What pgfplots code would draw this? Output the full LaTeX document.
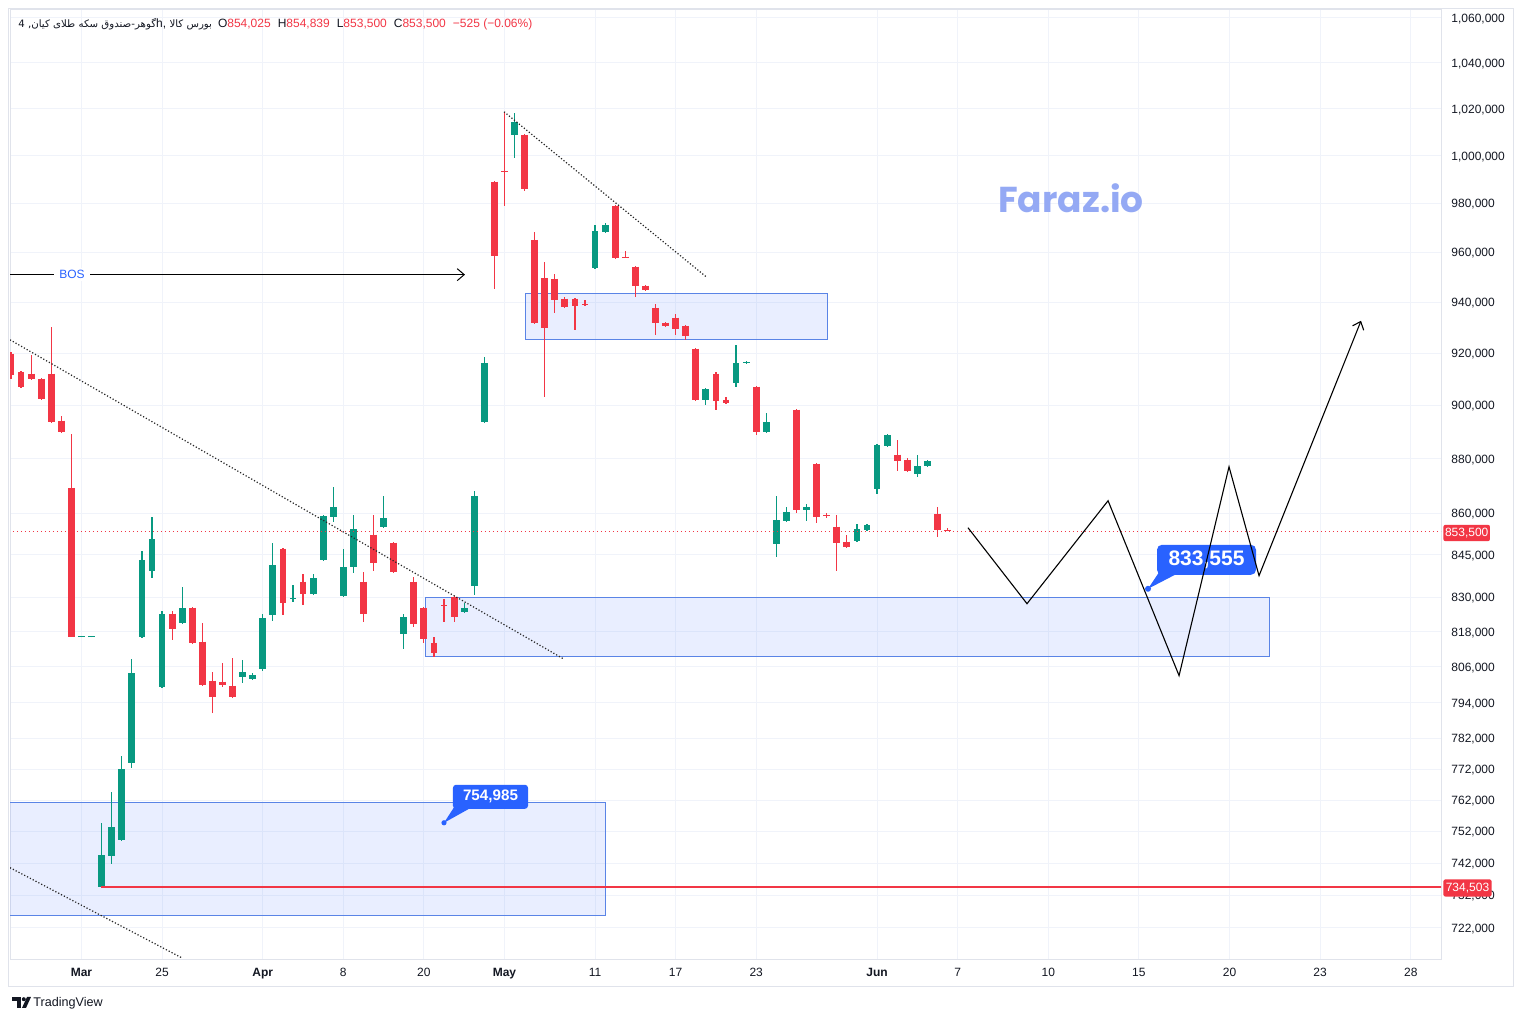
\documentclass[border=0pt]{standalone}
\usepackage{fontspec}
\setmainfont{Liberation Sans}
\newfontfamily\fa[Script=Arabic]{DejaVu Sans}
\newfontfamily\wmfont{Poppins}
\usepackage{pgfplots}
\pgfplotsset{compat=1.18}
\usetikzlibrary{arrows.meta}
\TeXXeTstate=1
\definecolor{tvred}{HTML}{F23645}
\definecolor{tvgreen}{HTML}{089981}
\definecolor{tvblue}{HTML}{2962FF}
\definecolor{tvgrid}{HTML}{F0F3FA}
\definecolor{tvborder}{HTML}{E0E3EB}
\definecolor{tvtext}{HTML}{131722}
\definecolor{boxedge}{HTML}{5A84E6}
\definecolor{wm}{HTML}{94A9F4}
\begin{document}
\begin{tikzpicture}
\path[use as bounding box, fill=white] (-5pt,-30.5pt) rectangle (756.5pt,480pt);
% prices in thousands
\begin{axis}[
  at={(0pt,0pt)}, anchor=south west,
  scale only axis, width=715.5pt, height=475pt,
  xmin=-0.1, xmax=142, ymode=log, ymin=712.33, ymax=1063.584,
  axis line style={draw=tvborder, line width=0.5pt},
  major tick length=0pt, minor tick num=0,
  xtick={7,15,25,33,41,49,58,66,74,86,94,103,112,121,130,139},
  xticklabels={\textbf{Mar},25,\textbf{Apr},8,20,\textbf{May},11,17,23,\textbf{Jun},7,10,15,20,23,28},
  ytick={722,732,742,752,762,772,782,794,806,818,830,845,860,880,900,920,940,960,980,1000,1020,1040,1060},
  yticklabels={{722,000},{732,000},{742,000},{752,000},{762,000},{772,000},{782,000},{794,000},{806,000},{818,000},{830,000},{845,000},{860,000},{880,000},{900,000},{920,000},{940,000},{960,000},{980,000},{1,000,000},{1,020,000},{1,040,000},{1,060,000}},
  yticklabel pos=right,
  yticklabel style={anchor=west, xshift=5pt, yshift=-0.4pt, inner sep=0pt, font=\fontsize{6}{7}\selectfont, text=tvtext},
  xticklabel style={anchor=base, yshift=-8.5pt, inner sep=0pt, font=\fontsize{6}{7}\selectfont, text=tvtext},
  grid=major, major grid style={draw=tvgrid, line width=0.5pt},
  unbounded coords=jump,
]
% zones
\addplot[draw=boxedge, line width=0.5pt, fill=tvblue, fill opacity=0.1] coordinates {(-3,761.13) (59.0,761.13) (59.0,725.68) (-3,725.68)} -- cycle;
\addplot[draw=boxedge, line width=0.5pt, fill=tvblue, fill opacity=0.1] coordinates {(51.04,943.47) (81.03,943.47) (81.03,925.34) (51.04,925.34)} -- cycle;
\addplot[draw=boxedge, line width=0.5pt, fill=tvblue, fill opacity=0.1] coordinates {(41.11,829.9) (124.93,829.9) (124.93,809.49) (41.11,809.49)} -- cycle;
% red wicks (low, high)
\addplot[tvred, line width=0.6pt] coordinates {
(0,910.24) (0,920.68) (0,nan) (1,906.79) (1,913.32) (1,nan) (2,909.86) (2,919.52) (2,nan)
(3,902.21) (3,910.62) (3,nan) (4,893.5) (4,930.45) (4,nan) (5,889.74) (5,896.14) (5,nan)
(6,816.35) (6,889.36) (6,nan) (16,815.32) (16,825.36) (16,nan) (18,813.95) (18,826.76) (18,nan)
(19,799.65) (19,821.19) (19,nan) (20,790.59) (20,804.39) (20,nan) (21,799.31) (21,807.45) (21,nan)
(22,795.62) (22,809.15) (22,nan) (27,823.96) (27,847.59) (27,nan) (29,827.45) (29,838.34) (29,nan)
(35,821.54) (35,839.05) (35,nan) (36,839.41) (36,859.48) (36,nan) (38,838.7) (38,849.75) (38,nan)
(40,819.8) (40,837.29) (40,nan) (41,814.29) (41,826.76) (41,nan) (42,809.49) (42,816.35) (42,nan)
(43,821.54) (43,829.55) (43,nan) (44,821.54) (44,830.6) (44,nan) (48,945.47) (48,989.55) (48,nan)
(49,979.17) (49,1018.78) (49,nan) (51,985.38) (51,1009.36) (51,nan) (52,931.61) (52,968.48) (52,nan)
(53,903.35) (53,956.3) (53,nan) (54,935.95) (54,951.48) (54,nan) (55,937.92) (55,942.28) (55,nan)
(56,929.25) (56,941.88) (56,nan) (57,938.71) (57,941.09) (57,nan) (60,957.51) (60,979.58) (60,nan)
(61,957.92) (61,960.75) (61,nan) (62,942.28) (62,954.7) (62,nan) (63,944.67) (63,947.06) (63,nan)
(64,927.3) (64,939.51) (64,nan) (65,930.43) (65,932.39) (65,nan) (66,927.3) (66,935.55) (66,nan)
(67,925.34) (67,931.22) (67,nan) (68,901.83) (68,922.23) (68,nan) (70,898.41) (70,912.93) (70,nan)
(71,900.69) (71,903.35) (71,nan) (74,888.99) (74,907.56) (74,nan) (78,860.21) (78,898.79) (78,nan)
(80,856.6) (80,878.55) (80,nan) (81,858.4) (81,860.21) (81,nan) (82,839.41) (82,859.48) (82,nan)
(83,847.59) (83,852.26) (83,nan) (88,875.58) (88,887.11) (88,nan) (89,875.21) (89,880.4) (89,nan)
(92,851.54) (92,862.38) (92,nan) (93,853.5) (93,854.839) (93,nan)
};
% red bodies (open, close)
\addplot[tvred, line width=3.4pt] coordinates {
(0,919.91) (0,911.78) (0,nan) (1,912.93) (1,907.17) (1,nan) (2,912.16) (2,910.24) (2,nan)
(3,910.24) (3,902.59) (3,nan) (4,912.16) (4,893.88) (4,nan) (5,894.25) (5,890.11) (5,nan)
(6,869.32) (6,816.35) (6,nan) (16,824.31) (16,819.11) (16,nan) (18,826.41) (18,814.29) (18,nan)
(19,814.63) (19,799.99) (19,nan) (20,801.34) (20,795.95) (20,nan) (21,801.0) (21,799.99) (21,nan)
(22,799.65) (22,795.95) (22,nan) (27,847.24) (27,828.16) (27,nan) (29,835.52) (29,831.3) (29,nan)
(35,835.52) (35,824.31) (35,nan) (36,852.26) (36,842.24) (36,nan) (38,849.39) (38,839.05) (38,nan)
(40,835.52) (40,820.85) (40,nan) (41,826.41) (41,815.66) (41,nan) (42,814.29) (42,810.86) (42,nan)
(43,827.2) (43,826.9) (43,nan) (44,830.25) (44,823.27) (44,nan) (48,989.13) (48,958.73) (48,nan)
(49,993.5) (49,993.1) (49,nan) (51,1008.93) (51,986.22) (51,nan) (52,965.22) (52,932.0) (52,nan)
(53,949.87) (53,930.04) (53,nan) (54,949.47) (54,941.09) (54,nan) (55,941.49) (55,938.32) (55,nan)
(56,941.49) (56,938.71) (56,nan) (57,939.2) (57,938.9) (57,nan) (60,979.17) (60,957.92) (60,nan)
(61,958.4) (61,958.1) (61,nan) (62,954.29) (62,946.67) (62,nan) (63,946.67) (63,945.07) (63,nan)
(64,937.92) (64,932.0) (64,nan) (65,932.0) (65,930.82) (65,nan) (66,933.97) (66,929.64) (66,nan)
(67,930.82) (67,926.9) (67,nan) (68,921.84) (68,902.21) (68,nan) (70,912.16) (70,901.83) (70,nan)
(71,902.21) (71,901.07) (71,nan) (74,907.17) (74,890.11) (74,nan) (78,898.41) (78,861.29) (78,nan)
(80,878.18) (80,858.76) (80,nan) (81,859.2) (81,858.9) (81,nan) (82,855.12) (82,849.39) (82,nan)
(83,849.75) (83,847.95) (83,nan) (88,881.52) (88,879.29) (88,nan) (89,879.66) (89,875.58) (89,nan)
(92,859.84) (92,854.025) (92,nan) (93,854.025) (93,853.5) (93,nan)
};
% green wicks (low, high)
\addplot[tvgreen, line width=0.6pt] coordinates {
(7,816.2) (7,816.5) (7,nan) (8,816.2) (8,816.5) (8,nan) (9,734.32) (9,754.74) (9,nan)
(10,741.8) (10,764.68) (10,nan) (11,749.03) (11,776.38) (11,nan) (12,772.45) (12,808.81) (12,nan)
(13,816.0) (13,846.52) (13,nan) (14,836.94) (14,858.76) (14,nan) (15,798.97) (15,825.36) (15,nan)
(17,820.85) (17,833.76) (17,nan) (23,800.66) (23,808.47) (23,nan) (24,801.68) (24,804.05) (24,nan)
(25,804.73) (25,824.31) (25,nan) (26,821.88) (26,849.39) (26,nan) (28,828.5) (28,834.47) (28,nan)
(30,830.95) (30,838.34) (30,nan) (31,842.95) (31,859.48) (31,nan) (32,856.95) (32,869.69) (32,nan)
(33,830.25) (33,847.24) (33,nan) (34,838.7) (34,859.48) (34,nan) (37,854.77) (37,866.39) (37,nan)
(39,812.23) (39,824.31) (39,nan) (45,824.66) (45,828.16) (45,nan) (46,830.95) (46,868.22) (46,nan)
(47,893.5) (47,918.73) (47,nan) (50,999.2) (50,1018.35) (50,nan) (58,953.48) (58,971.34) (58,nan)
(59,968.08) (59,972.16) (59,nan) (69,900.31) (69,906.79) (69,nan) (72,907.17) (72,923.4) (72,nan)
(73,916.02) (73,917.18) (73,nan) (75,889.74) (75,897.28) (75,nan) (76,844.38) (76,866.39) (76,nan)
(77,856.95) (77,862.38) (77,nan) (79,857.31) (79,863.47) (79,nan) (84,849.75) (84,856.24) (84,nan)
(85,853.7) (85,856.24) (85,nan) (86,867.13) (86,885.62) (86,nan) (87,884.5) (87,889.36) (87,nan)
(90,873.37) (90,881.52) (90,nan) (91,877.06) (91,879.66) (91,nan)
};
% green bodies (open, close)
\addplot[tvgreen, line width=3.4pt] coordinates {
(7,816.2) (7,816.5) (7,nan) (8,816.2) (8,816.5) (8,nan) (9,734.63) (9,744.62) (9,nan)
(10,744.31) (10,753.46) (10,nan) (11,749.34) (11,772.12) (11,nan) (12,774.09) (12,804.05) (12,nan)
(13,816.35) (13,843.31) (13,nan) (14,839.41) (14,850.82) (14,nan) (15,799.31) (15,824.31) (15,nan)
(17,821.19) (17,826.41) (17,nan) (23,802.7) (23,804.39) (23,nan) (24,802.02) (24,803.37) (24,nan)
(25,805.41) (25,822.93) (25,nan) (26,823.96) (26,841.53) (26,nan) (28,829.55) (28,829.9) (28,nan)
(30,831.3) (30,836.93) (30,nan) (31,843.31) (31,859.12) (31,nan) (32,858.76) (32,862.38) (32,nan)
(33,830.6) (33,840.82) (33,nan) (34,840.82) (34,854.41) (34,nan) (37,855.12) (37,858.4) (37,nan)
(39,817.39) (39,823.27) (39,nan) (45,825.02) (45,826.41) (45,nan) (46,834.11) (46,866.39) (46,nan)
(47,893.88) (47,916.41) (47,nan) (50,1008.93) (50,1014.49) (50,nan) (58,953.88) (58,968.89) (58,nan)
(59,968.48) (59,971.34) (59,nan) (69,902.21) (69,906.4) (69,nan) (72,908.71) (72,916.41) (72,nan)
(73,916.41) (73,916.8) (73,nan) (75,890.11) (75,893.88) (75,nan) (76,849.03) (76,857.67) (76,nan)
(77,857.31) (77,860.57) (77,nan) (79,861.29) (79,862.38) (79,nan) (84,850.1) (84,854.41) (84,nan)
(85,854.05) (85,855.84) (85,nan) (86,868.96) (86,885.24) (86,nan) (87,884.87) (87,888.98) (87,nan)
(90,874.48) (90,877.43) (90,nan) (91,877.43) (91,879.29) (91,nan)
};
% price lines
\addplot[tvred, line width=0.5pt, dash pattern=on 0.5pt off 1.5pt] coordinates {(-1,853.5) (143,853.5)};
\addplot[tvred, line width=1pt] coordinates {(8.9,734.503) (143,734.503)};
% trend lines
\addplot[black!85, line width=0.6pt, densely dotted] coordinates {(-0.1,925.34) (54.82,808.81)};
\addplot[black!85, line width=0.6pt, densely dotted] coordinates {(-0.1,740.54) (16.98,712.86)};
\addplot[black!85, line width=0.6pt, densely dotted] coordinates {(48.96,1018.78) (69.02,950.27)};
% BOS
\addplot[black, line width=0.5pt, -{Straight Barb[length=3.5pt,width=6pt]}] coordinates {(-0.1,951.08) (45.08,951.08)};
\node[fill=white, text=tvblue, inner xsep=2.5pt, inner ysep=1pt, font=\fontsize{6}{7}\selectfont] at (axis cs:6.06,951.08) {BOS};
% callouts
\fill[tvblue, rounded corners=1.5pt] (rel axis cs:0.30957,0.15895) rectangle (rel axis cs:0.36198,0.18421);
\fill[tvblue] (rel axis cs:0.31097,0.16211) -- (rel axis cs:0.32145,0.15950) -- (rel axis cs:0.30329,0.14421) -- cycle;
\fill[tvblue] (rel axis cs:0.30329,0.14421) circle (1.3pt);
\node[text=white, font=\bfseries\fontsize{7.6}{9}\selectfont] at (rel axis cs:0.33578,0.17158) {754,985};
\fill[tvblue, rounded corners=2.5pt] (rel axis cs:0.80154,0.40526) rectangle (rel axis cs:0.87072,0.43684);
\fill[tvblue] (rel axis cs:0.80363,0.40947) -- (rel axis cs:0.81482,0.40580) -- (rel axis cs:0.79525,0.39053) -- cycle;
\fill[tvblue] (rel axis cs:0.79525,0.39053) circle (1.5pt);
\node[text=white, font=\bfseries\fontsize{10.5}{12}\selectfont] at (rel axis cs:0.83613,0.42105) {833,555};
% projection path
\addplot[black, line width=0.55pt, -{Straight Barb[length=3.5pt,width=6pt]}] coordinates {(95.03,854.77) (100.89,827.8) (108.94,864.57) (115.99,803.03) (120.95,877.06) (123.93,837.64) (134.06,932.79)};
\end{axis}
% frame
\draw[tvborder, line width=0.5pt] (-0.5pt,-13.5pt) rectangle (751.5pt,475.5pt);
% price scale labels
\node[anchor=west, fill=tvred, text=white, rounded corners=1pt, inner xsep=0.8pt, inner ysep=1.6pt, font=\fontsize{6}{7}\selectfont] at (716.5pt,213.5pt) {853,500};
\node[anchor=west, fill=tvred, text=white, rounded corners=1pt, inner xsep=1.2pt, inner ysep=1.8pt, font=\fontsize{6}{7}\selectfont] at (716.5pt,36pt) {734,503};
% watermark
\node[text=wm, font=\wmfont\bfseries\fontsize{18}{22}\selectfont] at (530.5pt,381pt) {Faraz.io};
% title
\node[anchor=west, inner sep=0pt, font=\fontsize{6}{7}\selectfont, text=tvtext] at (4pt,468pt) {{\fa\fontsize{5.1}{6}\selectfont\beginR گوهر-صندوق سکه طلای کیان, 4\endR}h, {\fa\fontsize{5.1}{6}\selectfont\beginR بورس کالا\endR}\hspace{3pt}O\textcolor{tvred}{854,025}\hspace{3.5pt}H\textcolor{tvred}{854,839}\hspace{3.5pt}L\textcolor{tvred}{853,500}\hspace{3.5pt}C\textcolor{tvred}{853,500}\hspace{3.5pt}\textcolor{tvred}{−525 (−0.06\%)}};
% TradingView logo
\fill[tvtext] (1pt,-18.5pt) rectangle (5.5pt,-20.5pt);
\fill[tvtext] (3.5pt,-18.5pt) rectangle (5.5pt,-24pt);
\fill[tvtext] (6.9pt,-19.6pt) circle (1pt);
\fill[tvtext] (8.5pt,-18.5pt) -- (10.5pt,-18.5pt) -- (8pt,-24pt) -- (6pt,-24pt) -- cycle;
\node[anchor=west, inner sep=0pt, text=tvtext, font=\fontsize{6.3}{7}\selectfont] at (11.5pt,-21.5pt) {TradingView};
\end{tikzpicture}
\end{document}
